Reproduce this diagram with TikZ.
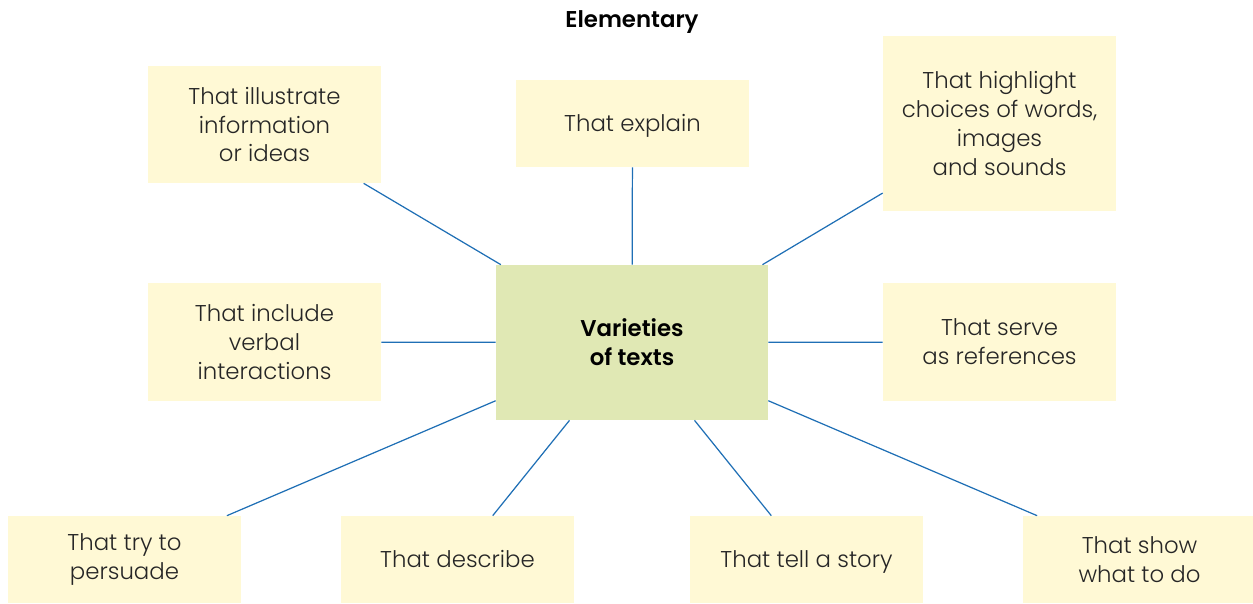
\documentclass[tikz,border=0pt]{standalone}
\usepackage{fontspec}
\setmainfont{Poppins}[UprightFont=* Light,BoldFont=* SemiBold]
\definecolor{boxyellow}{HTML}{FFF9D5}
\definecolor{boxgreen}{HTML}{E0E8B4}
\definecolor{linkblue}{HTML}{1F6FB5}
\begin{document}
\begin{tikzpicture}[x=0.02cm,y=-0.02cm,
        leaf/.style={fill=boxyellow,minimum width=4.66cm,align=center,inner sep=0pt,
            font=\fontsize{13}{16.5}\selectfont,text=black!85},
        oneline/.style={text height=1.7ex,text depth=0pt},
        hub/.style={fill=boxgreen,minimum width=5.44cm,minimum height=3.1cm,align=center,
            font=\fontsize{13}{16.5}\selectfont\bfseries},
        link/.style={linkblue,line width=0.7pt}]
            \useasboundingbox (0,0) rectangle (1253,603);
            \node[font=\fontsize{13}{16}\selectfont\bfseries] (title) at (632,22) {Elementary};

            \node[hub] (hub) at (632,342.5) {Varieties\\of texts};

            \node[leaf,minimum height=2.34cm] (illustrate) at (264.5,124.5) {That illustrate\\information\\or ideas};
            \node[leaf,oneline,minimum height=1.74cm] (explain) at (632.5,123.5) {That explain};
            \node[leaf,minimum height=3.5cm] (highlight) at (999.5,123.5) {That highlight\\choices of words,\\images\\and sounds};
            \node[leaf,minimum height=2.36cm] (include) at (264.5,342) {That include\\verbal\\interactions};
            \node[leaf,minimum height=2.36cm] (serve) at (999.5,342) {That serve\\as references};
            \node[leaf,minimum height=1.74cm] (persuade) at (124.5,559.5) {That try to\\persuade};
            \node[leaf,oneline,minimum height=1.74cm] (describe) at (457.5,559.5) {That describe};
            \node[leaf,oneline,minimum height=1.74cm] (story) at (806.5,559.5) {That tell a story};
            \node[leaf,minimum height=1.74cm] (show) at (1139.5,559.5) {That show\\what to do};

            \foreach \leafname in {illustrate,explain,highlight,include,serve,persuade,describe,story,show}
                \draw[link] (hub) -- (\leafname);
        \end{tikzpicture}
\end{document}
